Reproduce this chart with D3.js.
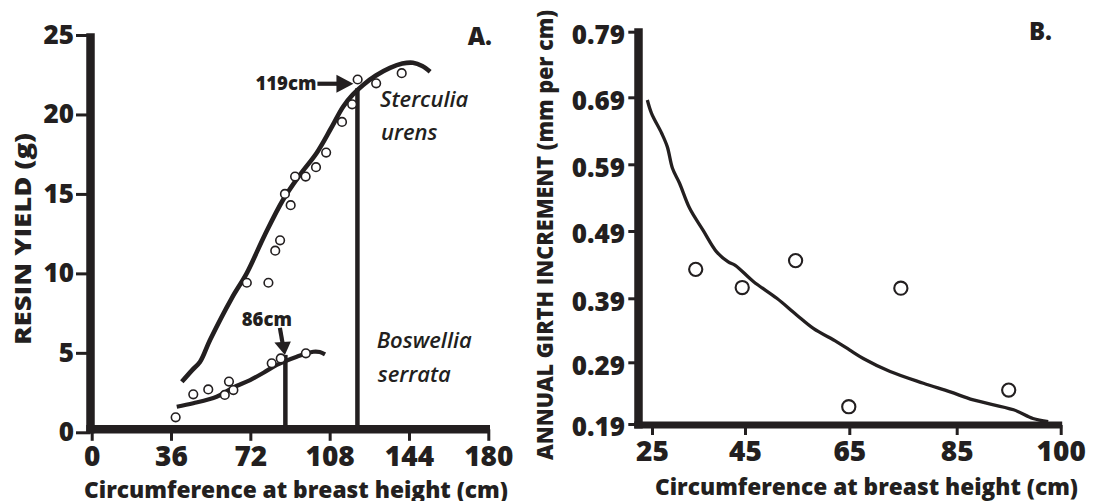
<!DOCTYPE html>
<html><head><meta charset="utf-8">
<script src="https://cdn.jsdelivr.net/npm/d3@7"></script>
<style>
html,body{margin:0;padding:0;background:#fff;}
svg{display:block;}
text{font-family:"Open Sans",sans-serif;fill:#231f20;}
</style></head>
<body>
<svg id="chart" width="1095" height="501"></svg>
<script>
// ---------- Panel A data ----------
const xTicksA = [0, 36, 72, 108, 144, 180];
const yTicksA = [0, 5, 10, 15, 20, 25];
const sterculiaPtsX = [120.7, 129.1, 140.7, 118.2, 113.6, 106.4, 101.8, 97.1, 92.3, 87.7, 90.3, 85.5, 83.3, 70.4, 80.2];
const sterculiaPtsY = [22.2, 21.96, 22.6, 20.64, 19.53, 17.6, 16.68, 16.09, 16.09, 15.0, 14.29, 12.08, 11.43, 9.41, 9.41];
const sterculiaCurveX = [40.9, 45.5, 49.2, 53.7, 63.6, 70.4, 78.5, 86.8, 94.5, 102.1, 108.5, 114.1, 118.5, 123.2, 129.0, 135.4, 141.0, 145.8, 150.0, 153.6];
const sterculiaCurveY = [3.18, 3.9, 4.44, 5.81, 8.45, 10.02, 12.4, 14.62, 16.2, 17.58, 19.1, 20.49, 21.25, 21.86, 22.45, 22.93, 23.2, 23.25, 23.05, 22.69];
const boswelliaPtsX = [38.1, 46.1, 52.9, 60.4, 62.3, 64.3, 81.7, 85.8, 97.2];
const boswelliaPtsY = [0.94, 2.39, 2.7, 2.35, 3.19, 2.66, 4.34, 4.65, 4.97];
const boswelliaCurveX = [38.6, 46.1, 56.7, 64.0, 71.9, 78.0, 84.0, 93.1, 100.6, 103.5, 105.9];
const boswelliaCurveY = [1.61, 1.83, 2.24, 2.8, 3.29, 3.75, 4.24, 4.76, 5.07, 5.05, 4.9];
const cutoffLabels = ["119cm", "86cm"];
const cutoffX = [120.6, 87.9];
const cutoffTopY = [21.65, 4.87];
const speciesNames = [["Sterculia", "urens"], ["Boswellia", "serrata"]];

// ---------- Panel B data ----------
const xTicksB = [25, 45, 65, 85, 100];
const yTicksB = [0.19, 0.29, 0.39, 0.49, 0.59, 0.69, 0.79];
const girthPtsX = [34.4, 44.4, 54.7, 64.9, 74.6, 92.5];
const girthPtsY = [0.433, 0.406, 0.446, 0.218, 0.405, 0.245];
const girthCurveX = [24.0, 24.9, 27.1, 28.3, 29.4, 30.9, 33.1, 36.0, 38.9, 41.4, 42.9, 46.6, 51.1, 54.9, 58.1, 62.6, 65.1, 67.6, 72.6, 78.8, 83.8, 87.4, 93.2, 96.0, 98.2];
const girthCurveY = [0.686, 0.666, 0.636, 0.616, 0.584, 0.562, 0.524, 0.491, 0.459, 0.444, 0.439, 0.415, 0.39, 0.364, 0.343, 0.322, 0.309, 0.296, 0.275, 0.256, 0.242, 0.229, 0.213, 0.199, 0.194];

const INK = "#231f20";
const svg = d3.select("#chart");

// ---------- Scales ----------
const xA = d3.scaleLinear().domain([0, 180]).range([91.7, 488.3]);
const yA = d3.scaleLinear().domain([0, 25]).range([432.3, 35]);
// panel B axis is drawn with uneven tick spacing in the original figure
const xB = d3.scaleLinear().domain(xTicksB).range([652, 745, 849.3, 956.7, 1060.7]);
const yB = d3.scaleLinear().domain(yTicksB).range([424, 362.3, 298.3, 231, 164.3, 97.3, 31.7]);

function styleAxis(g, fontSize, tickW) {
  g.select(".domain").remove();
  g.selectAll(".tick line").attr("stroke", INK).attr("stroke-width", tickW);
  g.selectAll(".tick text").attr("fill", INK).style("font-size", fontSize + "px").style("font-weight", 800);
}

// ---------- Panel A ----------
const axAx = xA(0) - 1.2;   // y-axis position
const axAy = yA(0) - 3;     // x-axis position

const gyA = svg.append("g").attr("transform", `translate(${axAx},0)`)
  .call(d3.axisLeft(yA).tickValues(yTicksA).tickSize(14.5).tickPadding(2).tickFormat(d3.format("d")));
styleAxis(gyA, 26, 3);

const gxA = svg.append("g").attr("transform", `translate(0,${axAy})`)
  .call(d3.axisBottom(xA).tickValues(xTicksA).tickSize(11.5).tickPadding(5.5).tickFormat(d3.format("d")));
styleAxis(gxA, 28, 3);

// axis bars
svg.append("line").attr("x1", axAx).attr("x2", axAx).attr("y1", yA(25) - 1.7).attr("y2", axAy + 4)
  .attr("stroke", INK).attr("stroke-width", 8.5);
svg.append("line").attr("x1", axAx - 4.25).attr("x2", xA(180) + 1.7).attr("y1", axAy).attr("y2", axAy)
  .attr("stroke", INK).attr("stroke-width", 8.5);

// cutoff vertical lines
cutoffX.forEach((cx, i) => {
  svg.append("line").attr("x1", xA(cx)).attr("x2", xA(cx)).attr("y1", yA(cutoffTopY[i])).attr("y2", axAy)
    .attr("stroke", INK).attr("stroke-width", 4.5);
});

// curves
const lineA = d3.line().x(d => xA(d[0])).y(d => yA(d[1])).curve(d3.curveCatmullRom.alpha(0.5));
svg.append("path").datum(d3.zip(sterculiaCurveX, sterculiaCurveY)).attr("d", lineA)
  .attr("fill", "none").attr("stroke", INK).attr("stroke-width", 4.6).attr("stroke-linecap", "butt");
svg.append("path").datum(d3.zip(boswelliaCurveX, boswelliaCurveY)).attr("d", lineA)
  .attr("fill", "none").attr("stroke", INK).attr("stroke-width", 4.2).attr("stroke-linecap", "butt");

// points
svg.append("g").selectAll("circle").data(d3.zip(sterculiaPtsX, sterculiaPtsY)).join("circle")
  .attr("cx", d => xA(d[0])).attr("cy", d => yA(d[1])).attr("r", 4.3)
  .attr("fill", "#fff").attr("stroke", INK).attr("stroke-width", 1.6);
svg.append("g").selectAll("circle").data(d3.zip(boswelliaPtsX, boswelliaPtsY)).join("circle")
  .attr("cx", d => xA(d[0])).attr("cy", d => yA(d[1])).attr("r", 4.3)
  .attr("fill", "#fff").attr("stroke", INK).attr("stroke-width", 1.6);

// arrow 119cm (pointing right)
{
  const tx = xA(cutoffX[0]) - 4, ty = yA(cutoffTopY[0]) - 4.5;
  svg.append("line").attr("x1", tx - 36).attr("x2", tx - 14).attr("y1", ty).attr("y2", ty)
    .attr("stroke", INK).attr("stroke-width", 4.2);
  svg.append("path").attr("d", `M${tx},${ty} L${tx - 17},${ty - 9} L${tx - 17},${ty + 9} Z`).attr("fill", INK);
  svg.append("text").attr("x", tx - 37).attr("y", ty + 5.8).attr("text-anchor", "end")
    .style("font-size", "18.5px").style("font-weight", 800).text(cutoffLabels[0]);
}
// arrow 86cm (pointing down)
{
  const tx = xA(cutoffX[1]) - 0.5, ty = yA(cutoffTopY[1]);
  svg.append("line").attr("x1", tx - 5).attr("y1", ty - 27).attr("x2", tx - 2).attr("y2", ty - 10)
    .attr("stroke", INK).attr("stroke-width", 4.2);
  svg.append("path").attr("d", `M${tx},${ty} L${tx - 10.5},${ty - 12.5} L${tx + 6},${ty - 13.5} Z`).attr("fill", INK);
  svg.append("text").attr("x", tx - 18).attr("y", ty - 29).attr("text-anchor", "middle")
    .style("font-size", "18.5px").style("font-weight", 800).text(cutoffLabels[1]);
}

// species labels
const speciesPos = [[380, 107, 140], [376.7, 348.3, 381.7]];
speciesNames.forEach((nm, i) => {
  const t = svg.append("text").attr("x", speciesPos[i][0]).attr("y", speciesPos[i][1])
    .style("font-size", "22px").style("font-style", "italic").style("font-weight", 600);
  t.append("tspan").attr("x", speciesPos[i][0]).text(nm[0]);
  t.append("tspan").attr("x", speciesPos[i][0] + 1).attr("y", speciesPos[i][2]).text(nm[1]);
});

// titles A
svg.append("text").attr("x", 84).attr("y", 497.5).attr("textLength", 424).attr("lengthAdjust", "spacingAndGlyphs")
  .style("font-size", "23px").style("font-weight", 800).text("Circumference at breast height (cm)");
svg.append("text").attr("transform", "translate(31,239) rotate(-90)").attr("text-anchor", "middle")
  .attr("textLength", 212).attr("lengthAdjust", "spacingAndGlyphs")
  .style("font-size", "23px").style("font-weight", 800).text("RESIN YIELD (g)");
svg.append("text").attr("x", 492).attr("y", 45).attr("text-anchor", "end")
  .style("font-size", "24px").style("font-weight", 800).text("A.");

// ---------- Panel B ----------
const axBx = 638.5, axBy = 425;
const gyB = svg.append("g").attr("transform", `translate(${axBx},0)`)
  .call(d3.axisLeft(yB).tickValues(yTicksB).tickSize(10.2).tickPadding(3.3).tickFormat(d3.format(".2f")));
styleAxis(gyB, 26, 3);
gyB.selectAll(".tick text").attr("dy", "0.45em");

const gxB = svg.append("g").attr("transform", `translate(0,${axBy})`)
  .call(d3.axisBottom(xB).tickValues(xTicksB).tickSize(10).tickPadding(6.5).tickFormat(d3.format("d")));
styleAxis(gxB, 28, 3);

svg.append("line").attr("x1", axBx).attr("x2", axBx).attr("y1", yB(0.79) - 3.5).attr("y2", axBy + 3.5)
  .attr("stroke", INK).attr("stroke-width", 8.5);
svg.append("line").attr("x1", axBx - 4.25).attr("x2", xB(100) + 1.5).attr("y1", axBy).attr("y2", axBy)
  .attr("stroke", INK).attr("stroke-width", 7);

const lineB = d3.line().x(d => xB(d[0])).y(d => yB(d[1])).curve(d3.curveCatmullRom.alpha(0.5));
svg.append("path").datum(d3.zip(girthCurveX, girthCurveY)).attr("d", lineB)
  .attr("fill", "none").attr("stroke", INK).attr("stroke-width", 3.3);

svg.append("g").selectAll("circle").data(d3.zip(girthPtsX, girthPtsY)).join("circle")
  .attr("cx", d => xB(d[0])).attr("cy", d => yB(d[1])).attr("r", 6.6)
  .attr("fill", "#fff").attr("stroke", INK).attr("stroke-width", 2.1);

svg.append("text").attr("x", 655).attr("y", 495).attr("textLength", 423).attr("lengthAdjust", "spacingAndGlyphs")
  .style("font-size", "23px").style("font-weight", 800).text("Circumference at breast height (cm)");
svg.append("text").attr("transform", "translate(552.5,235) rotate(-90)").attr("text-anchor", "middle")
  .attr("textLength", 450).attr("lengthAdjust", "spacingAndGlyphs")
  .style("font-size", "22px").style("font-weight", 800).text("ANNUAL GIRTH INCREMENT (mm per cm)");
svg.append("text").attr("x", 1052).attr("y", 40).attr("text-anchor", "end")
  .style("font-size", "24px").style("font-weight", 800).text("B.");
</script>
</body></html>
